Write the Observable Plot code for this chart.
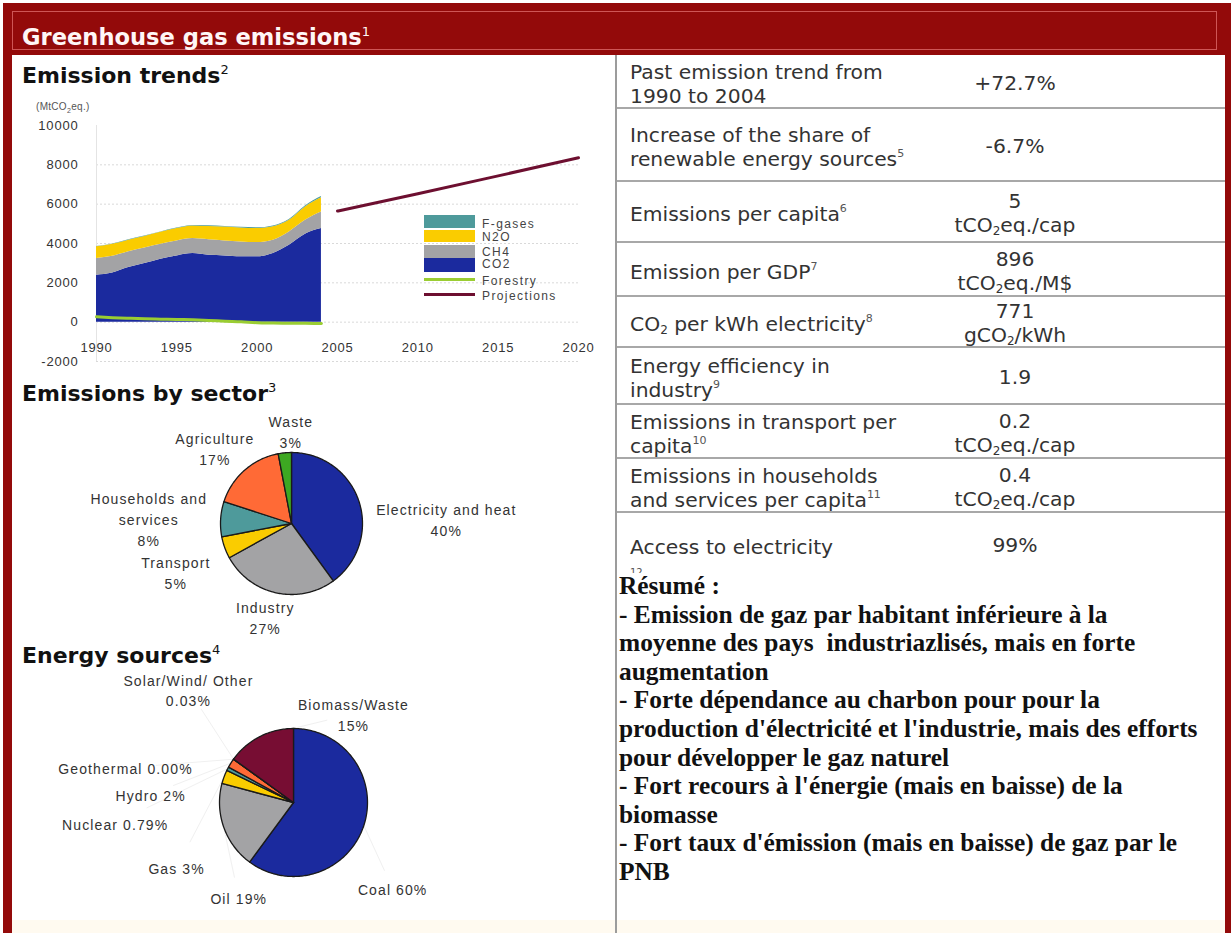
<!DOCTYPE html>
<html><head><meta charset="utf-8">
<script src="https://cdn.jsdelivr.net/npm/d3@7"></script>
<script src="https://cdn.jsdelivr.net/npm/@observablehq/plot@0.6"></script>
<style>
html,body{margin:0;padding:0}
body{width:1231px;height:933px;position:relative;overflow:hidden;background:#fff;font-family:"DejaVu Sans",Verdana,sans-serif}
.a{position:absolute}
#frame{left:3px;top:3px;width:1228px;height:930px;background:#930a0a}
#hdrbox{left:12px;top:11px;width:1205px;height:39px;border:1px solid rgba(255,150,150,.55);box-sizing:border-box}
#title{left:22px;top:24px;line-height:24px;color:#fff6f6;font:bold 22.6px "DejaVu Sans",sans-serif;white-space:nowrap}
.sp{font-size:13px;font-weight:normal;vertical-align:9px;line-height:0}
#left{left:12px;top:55px;width:603px;height:878px;background:#fff}
#divider{left:615px;top:55px;width:2px;height:878px;background:#9c9c9c}
#right{left:617px;top:55px;width:608px;height:878px;background:#fff}
.h2{left:22px;line-height:24px;font:bold 22px "DejaVu Sans",sans-serif;color:#111;white-space:nowrap}
.row{left:617px;width:608px;box-sizing:border-box;border-bottom:2px solid #a8a8a8;color:#333;font-size:20.3px;line-height:24px;overflow:hidden}
.lab{position:absolute;left:13px;top:0;bottom:0;display:flex;align-items:center;white-space:nowrap;padding-top:5px}
.val{position:absolute;left:248px;width:300px;top:0;bottom:0;display:flex;align-items:center;justify-content:center;text-align:center;white-space:nowrap;padding-top:3px;line-height:24px}
.row sup{font-size:11px;line-height:0;vertical-align:9px;color:#555}
.row sub{font-size:12px;line-height:0;vertical-align:-3px}
#resume{left:619px;top:571px;width:600px;font:bold 25.4px "Liberation Serif","Times New Roman",serif;line-height:28.6px;color:#111;white-space:pre}
#unit{left:36px;top:101px;font:10px "Liberation Sans",Arial,sans-serif;color:#555;letter-spacing:.3px}
#legend{left:424px;top:214px;width:150px;height:90px;font:12px "Liberation Sans",Arial,sans-serif;color:#444;letter-spacing:1.4px}
.sw{position:absolute;left:0;width:51px}
.lt{position:absolute;left:58px;line-height:12px;white-space:nowrap}
.cream{top:920px;height:13px;background:#fffaf0}
</style>
</head><body>
<div class="a" id="frame"></div>
<div class="a" id="hdrbox"></div>
<div class="a" id="title">Greenhouse gas emissions<span class="sp">1</span></div>
<div class="a" id="left"></div>
<div class="a" id="right"></div>
<div class="a cream" style="left:12px;width:603px"></div>
<div class="a cream" style="left:617px;width:608px"></div>
<div class="a" id="divider"></div>
<div class="a h2" style="top:63px">Emission trends<span class="sp">2</span></div>
<div class="a h2" style="top:381px">Emissions by sector<span class="sp">3</span></div>
<div class="a h2" style="top:643px">Energy sources<span class="sp">4</span></div>
<div class="a" id="unit">(MtCO<sub style="font-size:7px">2</sub>eq.)</div>
<div class="a" id="trend" style="left:12px;top:100px;width:603px;height:270px"></div>
<div class="a" id="legend"></div>
<div class="a" id="pie1" style="left:12px;top:400px;width:603px;height:245px"></div>
<div class="a" id="pie2" style="left:12px;top:668px;width:603px;height:250px"></div>
<div id="table"></div>
<div class="a" id="resume"></div>
<script>
// ---------- Emission trends data (MtCO2eq.) ----------
const years = [1990,1991,1992,1993,1994,1995,1996,1997,1998,1999,2000,2001,2002,2003,2004];
const co2 = [2390,2500,2780,2980,3200,3370,3490,3400,3370,3320,3320,3490,3910,4470,4760];
const ch4 = [850,850,800,790,760,760,760,790,760,760,730,680,680,710,840];
const n2o = [590,610,590,590,610,630,640,680,710,710,710,680,590,680,730];
const fgases = [20,20,20,20,20,25,25,30,30,30,35,40,45,50,60];
const forestry = [270,230,200,170,150,135,120,90,50,20,-30,-45,-55,-60,-68];
const projYears = [2005,2010,2015,2020];
const projections = [5650,6530,7440,8360];
const yTicks = [-2000,0,2000,4000,6000,8000,10000];
const xTicks = [1990,1995,2000,2005,2010,2015,2020];
const gasNames = ["CO2","CH4","N2O","F-gases"];
const gasColors = ["#1b2a9e","#a3a3a5","#facc00","#4e9a9b"];
const forestryColor = "#9acd32";
const projColor = "#6d0f30";

// ---------- Emissions by sector (%) ----------
const sectorNames = ["Electricity and heat","Industry","Transport","Households and services","Agriculture","Waste"];
const sectorValues = [40,27,5,8,17,3];
const sectorLabels = ["Electricity and heat\n40%","Industry\n27%","Transport\n5%","Households and\nservices\n8%","Agriculture\n17%","Waste\n3%"];
const sectorColors = ["#1b2a9e","#a3a3a5","#facc00","#4e9a9b","#ff6a36","#3da822"];

// ---------- Energy sources (%) ----------
const energyNames = ["Coal","Oil","Gas","Nuclear","Hydro","Geothermal","Solar/Wind/Other","Biomass/Waste"];
const energyValues = [60,19,3,0.79,2,0.00,0.03,15];
const energyLabels = ["Coal 60%","Oil 19%","Gas 3%","Nuclear 0.79%","Hydro 2%","Geothermal 0.00%","Solar/Wind/ Other\n0.03%","Biomass/Waste\n15%"];
const energyColors = ["#1b2a9e","#a3a3a5","#facc00","#4e9a9b","#ff6a36","#3da822","#9966cc","#770d33"];

// label layout (offset of label centre from pie centre, in pie radii; dy downwards)
const sectorLabelLayout = [[2.18,-0.07],[-0.37,1.32],[-1.63,0.68],[-2.01,-0.07],[-1.08,-1.06],[-0.01,-1.30]];
const energyLabelLayout = [[1.34,1.16],[-0.74,1.28],[-1.58,0.88],[-2.41,0.28],[-1.93,-0.11],[-2.27,-0.47],[-1.42,-1.53],[0.81,-1.20]];

// ---------- Table ----------
const tableLabels = ["Past emission trend from<br>1990 to 2004","Increase of the share of<br>renewable energy sources<sup>5</sup>","Emissions per capita<sup>6</sup>","Emission per GDP<sup>7</sup>","CO<sub>2</sub> per kWh electricity<sup>8</sup>","Energy efficiency in<br>industry<sup>9</sup>","Emissions in transport per<br>capita<sup>10</sup>","Emissions in households<br>and services per capita<sup>11</sup>","Access to electricity<br><sup style=\"vertical-align:2px;font-size:10px\">12</sup>"];
const tableValues = ["+72.7%","-6.7%","5<br>tCO<sub>2</sub>eq./cap","896<br>tCO<sub>2</sub>eq./M$","771<br>gCO<sub>2</sub>/kWh","1.9","0.2<br>tCO<sub>2</sub>eq./cap","0.4<br>tCO<sub>2</sub>eq./cap","99%"];
const rowEdges = [55,109,182,243,297,348,405,459,513,573];

const resumeText = ["Résumé :","- Emission de gaz par habitant inférieure à la","moyenne des pays  industriazlisés, mais en forte","augmentation","- Forte dépendance au charbon pour pour la","production d'électricité et l'industrie, mais des efforts","pour développer le gaz naturel","- Fort recours à l'énergie (mais en baisse) de la","biomasse","- Fort taux d'émission (mais en baisse) de gaz par le","PNB"];

// ===== area chart =====
const areaData = [];
const gasSeries = [co2, ch4, n2o, fgases];
years.forEach((yr, i) => gasSeries.forEach((s, j) => areaData.push({year: yr, gas: gasNames[j], value: s[i]})));
const forData = years.map((yr, i) => ({year: yr, value: forestry[i]}));
const projData = projYears.map((yr, i) => ({year: yr, value: projections[i]}));

const trend = Plot.plot({
  width: 603, height: 270,
  marginLeft: 84, marginRight: 37, marginTop: 25, marginBottom: 9,
  x: {domain: [1990, 2020], axis: null},
  y: {domain: [-2000, 10000], axis: null},
  color: {domain: gasNames, range: gasColors},
  style: {background: "transparent", fontFamily: "Liberation Sans, Arial, sans-serif", letterSpacing: "0.8px", color: "#333"},
  marks: [
    Plot.ruleY(yTicks.filter(d => d < 10000), {stroke: "#d9d9d9", strokeDasharray: "2,2"}),
    Plot.ruleX([1990], {stroke: "#e4e4e4"}),
    Plot.areaY(areaData, {x: "year", y: "value", fill: "gas", order: gasNames, curve: "monotone-x"}),
    Plot.line(forData, {x: "year", y: "value", stroke: forestryColor, strokeWidth: 3, curve: "monotone-x"}),
    Plot.line(projData, {x: "year", y: "value", stroke: projColor, strokeWidth: 3, curve: "monotone-x"}),
    Plot.text(yTicks, {y: d => d, text: d => String(d), frameAnchor: "left", textAnchor: "end", dx: -18, fontSize: 13, fill: "#333"}),
    Plot.text(xTicks, {x: d => d, y: d => 0, text: d => String(d), dy: 26, fontSize: 13, fill: "#333"})
  ]
});
document.getElementById("trend").appendChild(trend);

// legend
const legendItems = [
  {name: "F-gases", color: gasColors[3], top: 1, h: 13, t: 4},
  {name: "N2O", color: gasColors[2], top: 16, h: 12, t: 17},
  {name: "CH4", color: gasColors[1], top: 31, h: 13, t: 32},
  {name: "CO2", color: gasColors[0], top: 44, h: 14, t: 44},
  {name: "Forestry", color: forestryColor, top: 64, h: 3, t: 61},
  {name: "Projections", color: projColor, top: 79, h: 3, t: 76}
];
const lg = document.getElementById("legend");
legendItems.forEach(it => {
  const sw = document.createElement("div");
  sw.className = "sw"; sw.style.top = it.top + "px"; sw.style.height = it.h + "px"; sw.style.background = it.color;
  lg.appendChild(sw);
  const t = document.createElement("div");
  t.className = "lt"; t.style.top = it.t + "px"; t.textContent = it.name;
  lg.appendChild(t);
});

// ===== pies =====
function pie(el, names, values, colors, labels, layout, opts) {
  const {W, H, cx, cy, r, leaders} = opts;
  const total = d3.sum(values);
  const slices = [];
  const pts = [];
  let acc = 0;
  values.forEach((v, i) => {
    const a0 = acc / total * 2 * Math.PI;
    acc += v;
    const a1 = acc / total * 2 * Math.PI;
    slices.push({name: names[i], a0, a1, mid: (a0 + a1) / 2, label: labels[i], lx: layout[i][0], ly: -layout[i][1]});
    pts.push({name: names[i], x: 0, y: 0});
    const n = Math.max(2, Math.ceil((a1 - a0) / (Math.PI / 180)));
    for (let k = 0; k <= n; k++) {
      const a = a0 + (a1 - a0) * k / n;
      pts.push({name: names[i], x: Math.sin(a), y: Math.cos(a)});
    }
  });
  const marks = [];
  if (leaders) {
    marks.push(Plot.link(slices, {
      x1: d => Math.sin(d.mid), y1: d => Math.cos(d.mid),
      x2: d => d.lx * 0.72 + Math.sin(d.mid) * 0.28, y2: d => d.ly * 0.72 + Math.cos(d.mid) * 0.28,
      stroke: "#f0f0f0", strokeWidth: 1
    }));
  }
  marks.push(Plot.line(pts, {x: "x", y: "y", z: "name", fill: "name", stroke: "#1a1a1a", strokeWidth: 1.3, strokeLinejoin: "round", curve: "linear-closed"}));
  marks.push(Plot.text(slices, {x: "lx", y: "ly", text: "label", fontSize: 14, lineHeight: 1.5, fill: "#333"}));
  const p = Plot.plot({
    width: W, height: H, margin: 0,
    x: {domain: [-cx / r, (W - cx) / r], axis: null},
    y: {domain: [-(H - cy) / r, cy / r], axis: null},
    color: {domain: names, range: colors},
    style: {background: "transparent", fontFamily: "Liberation Sans, Arial, sans-serif", letterSpacing: "1.1px"},
    marks
  });
  document.getElementById(el).appendChild(p);
}
pie("pie1", sectorNames, sectorValues, sectorColors, sectorLabels, sectorLabelLayout, {W: 603, H: 245, cx: 279, cy: 123, r: 71, leaders: false});
pie("pie2", energyNames, energyValues, energyColors, energyLabels, energyLabelLayout, {W: 603, H: 250, cx: 281, cy: 134, r: 74, leaders: true});

// ===== table =====
const tb = document.getElementById("table");
tableLabels.forEach((lab, i) => {
  const row = document.createElement("div");
  row.className = "a row";
  row.style.top = rowEdges[i] + "px";
  row.style.height = (rowEdges[i + 1] - rowEdges[i]) + "px";
  const last = i === tableLabels.length - 1;
  if (last) row.style.borderBottom = "none";
  row.innerHTML = `<div class="lab"${last ? ' style="align-items:flex-start;padding-top:22px"' : ''}><div>${lab}</div></div><div class="val"><div>${tableValues[i]}</div></div>`;
  tb.appendChild(row);
});
document.getElementById("resume").textContent = resumeText.join("\n");
</script>
</body></html>
